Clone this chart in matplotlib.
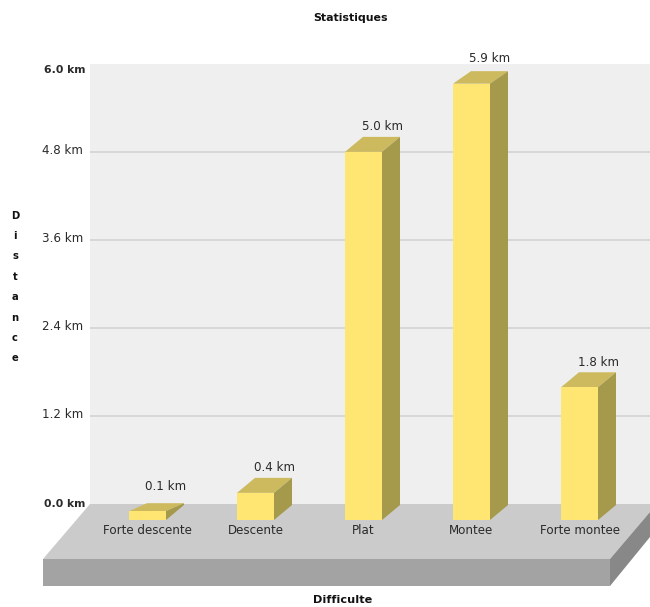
#!/usr/bin/env python3
"""Recreate the 3D-look distance per difficulty bar chart."""

import matplotlib

matplotlib.use("Agg")

import matplotlib.pyplot as plt
from matplotlib.patches import Polygon
from matplotlib.transforms import Affine2D

WIDTH_PX = 650
HEIGHT_PX = 607

categories = ["Forte descente", "Descente", "Plat", "Montee", "Forte montee"]
distance_km = [0.12, 0.37, 5.02, 5.95, 1.81]
value_labels = ["0.1 km", "0.4 km", "5.0 km", "5.9 km", "1.8 km"]
y_ticks = [0.0, 1.2, 2.4, 3.6, 4.8, 6.0]
y_tick_labels = ["0.0 km", "1.2 km", "2.4 km", "3.6 km", "4.8 km", "6.0 km"]

# wall position in pixels, measured from the top left
WALL_LEFT, WALL_RIGHT, WALL_TOP, WALL_BOTTOM = 90, 650, 64, 504
PX_PER_KM = (WALL_BOTTOM - WALL_TOP) / 6.0
PX_PER_CAT = 108.0
FIRST_BAR_PX = 147.5

BAR_WIDTH = 37 / PX_PER_CAT
DEPTH_X = 18 / PX_PER_CAT
BASE_DROP = 16 / PX_PER_KM
BASE_DEPTH = 15 / PX_PER_KM
# how far the top face recedes, bars near the limits are flatter in the original
TOP_DEPTH_PX = [8, 15, 15, 12.5, 15]

FRONT = "#ffe571"
TOP = "#cdba5e"
SIDE = "#a5994b"
TEXT = "#2a2a2a"
LABEL_SIZE = 8.6


def pixel_transform():
    # pixel coords with y going down, same as reading them off the picture
    return Affine2D().scale(1, -1).translate(0, HEIGHT_PX)


def draw_floor(ax):
    tr = pixel_transform()
    floor = [(90, 504), (650, 504), (650, 512), (610, 559), (43, 559)]
    front = [(43, 559), (610, 559), (610, 586), (43, 586)]
    side = [(610, 559), (650, 512), (650, 537), (610, 586)]
    for pts, color in [(floor, "#cbcbcb"), (front, "#a3a3a3"), (side, "#888888")]:
        ax.add_patch(Polygon(pts, closed=True, transform=tr, facecolor=color,
                             edgecolor="none", clip_on=False, zorder=1))


def draw_bars(ax):
    bottom = -BASE_DROP
    xs = range(len(categories))
    for i, value, depth_px in zip(xs, distance_km, TOP_DEPTH_PX):
        left = i - BAR_WIDTH / 2
        right = i + BAR_WIDTH / 2
        top = value - BASE_DROP
        depth = depth_px / PX_PER_KM

        ax.bar(i, value, width=BAR_WIDTH, bottom=bottom, color=FRONT,
               clip_on=False, zorder=4)
        ax.add_patch(Polygon(
            [(left, top), (right, top), (right + DEPTH_X, top + depth), (left + DEPTH_X, top + depth)],
            closed=True, facecolor=TOP, edgecolor="none", clip_on=False, zorder=3,
        ))
        ax.add_patch(Polygon(
            [(right, bottom), (right + DEPTH_X, bottom + BASE_DEPTH), (right + DEPTH_X, top + depth), (right, top)],
            closed=True, facecolor=SIDE, edgecolor="none", clip_on=False, zorder=3,
        ))
        ax.annotate(value_labels[i], xy=(right, top), xytext=(0, 25 * 0.72),
                    textcoords="offset points", ha="center", va="center",
                    fontsize=LABEL_SIZE, color=TEXT, annotation_clip=False, zorder=5)


def style_axes(ax):
    ax.set_facecolor("#efefef")
    ax.set_xlim((WALL_LEFT - FIRST_BAR_PX) / PX_PER_CAT, (WALL_RIGHT - FIRST_BAR_PX) / PX_PER_CAT)
    ax.set_ylim(0, 6)
    for spine in ax.spines.values():
        spine.set_visible(False)

    ax.set_yticks(y_ticks)
    ax.set_yticklabels(y_tick_labels, fontsize=LABEL_SIZE, color=TEXT)
    ax.tick_params(axis="y", length=0, pad=5)
    # the labels do not sit quite level with their gridlines in the original
    nudge_px = {"0.0 km": 1, "1.2 km": 3, "2.4 km": 3, "3.6 km": 3, "4.8 km": 3, "6.0 km": -5}
    for tick, label in zip(ax.yaxis.get_major_ticks(), ax.get_yticklabels()):
        text = label.get_text()
        if text in ("0.0 km", "6.0 km"):
            label.set_fontweight("bold")
            label.set_fontsize(7.8)
            tick.set_pad(3)
        label.set_transform(label.get_transform() + Affine2D().translate(0, nudge_px[text]))
    for y in y_ticks[1:-1]:
        ax.axhline(y, color="#d0d0d0", linewidth=1.1, zorder=2)

    ax.set_xticks(range(len(categories)))
    ax.set_xticklabels(categories, fontsize=LABEL_SIZE, color=TEXT, zorder=6)
    ax.tick_params(axis="x", length=0, pad=14.3)
    ax.xaxis.set_zorder(6)
    ax.set_axisbelow(False)


def main():
    fig = plt.figure(figsize=(WIDTH_PX / 100, HEIGHT_PX / 100), dpi=100)
    ax = fig.add_axes([
        WALL_LEFT / WIDTH_PX,
        1 - WALL_BOTTOM / HEIGHT_PX,
        (WALL_RIGHT - WALL_LEFT) / WIDTH_PX,
        (WALL_BOTTOM - WALL_TOP) / HEIGHT_PX,
    ])

    style_axes(ax)
    draw_floor(ax)
    draw_bars(ax)

    fig.text(351 / WIDTH_PX, 1 - 18 / HEIGHT_PX, "Statistiques", ha="center", va="center",
             fontsize=7.9, fontweight="bold", color="#111111")
    fig.text(343 / WIDTH_PX, 1 - 600 / HEIGHT_PX, "Difficulte", ha="center", va="center",
             fontsize=8.1, fontweight="bold", color="#111111")
    fig.text(15 / WIDTH_PX, 1 - 287 / HEIGHT_PX, "\n".join("Distance"), ha="center", va="center",
             fontsize=7.2, fontweight="bold", color="#111111", linespacing=2.3)

    fig.savefig("out.png", dpi=100)
    plt.close(fig)


if __name__ == "__main__":
    main()
